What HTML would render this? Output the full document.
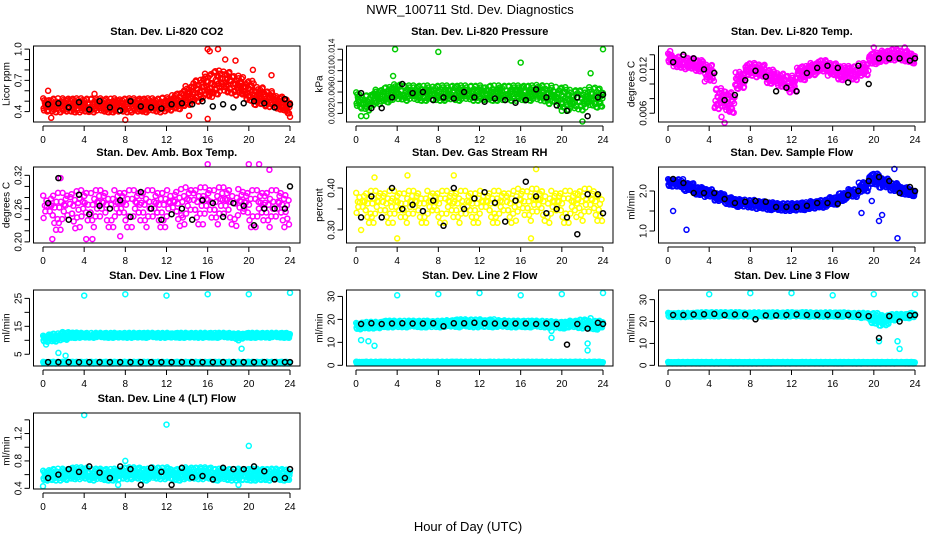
<!DOCTYPE html>
<html><head><meta charset="utf-8"><style>
html,body{margin:0;padding:0;background:#fff;}
svg{display:block;font-family:"Liberation Sans",sans-serif;}
</style></head><body>
<svg id="chart" width="936" height="540" viewBox="0 0 936 540" xmlns="http://www.w3.org/2000/svg">
<text x="470" y="14" font-size="13" text-anchor="middle">NWR_100711  Std. Dev. Diagnostics</text>
<text x="468" y="531" font-size="13" text-anchor="middle">Hour of Day (UTC)</text>
</svg>
<script>
// ---- data arrays (hours 0..24) ----
const hours = [0,1,2,3,4,5,6,7,8,9,10,11,12,13,14,15,16,17,18,19,20,21,22,23,24];
const blackHours = [0.5,1.5,2.5,3.5,4.5,5.5,6.5,7.5,8.5,9.5,10.5,11.5,12.5,13.5,14.5,15.5,16.5,17.5,18.5,19.5,20.5,21.5,22.5,23.5,24];

const co2Centers = [0.46,0.46,0.46,0.46,0.46,0.46,0.46,0.46,0.46,0.46,0.46,0.46,0.47,0.5,0.55,0.6,0.65,0.68,0.68,0.65,0.6,0.55,0.52,0.48,0.45];
const co2Spread = [0.07,0.07,0.07,0.07,0.07,0.07,0.07,0.07,0.07,0.07,0.07,0.07,0.07,0.08,0.1,0.11,0.12,0.12,0.11,0.1,0.1,0.09,0.08,0.07,0.07];
const co2OutX = [16,16.2,17,17.7,18.7,20.4,22.2,0.5,5,8,14.2,16,24,0.8];
const co2OutY = [1.0,0.98,1.0,0.9,0.89,0.8,0.75,0.6,0.57,0.32,0.36,0.33,0.35,0.34];
const co2Black = [0.47,0.48,0.44,0.49,0.42,0.5,0.44,0.41,0.5,0.45,0.44,0.43,0.47,0.48,0.47,0.5,0.45,0.47,0.44,0.48,0.5,0.48,0.44,0.52,0.47];

const presCenters = [0.0045,0.004,0.005,0.0055,0.006,0.0058,0.0058,0.0058,0.0058,0.0058,0.0058,0.0058,0.0058,0.0058,0.0058,0.0058,0.0058,0.0058,0.0058,0.0055,0.005,0.0045,0.0045,0.005,0.005];
const presSpread = [0.0015,0.0015,0.0015,0.0015,0.0015,0.0015,0.0015,0.0015,0.0015,0.0015,0.0015,0.0015,0.0015,0.0015,0.0015,0.0015,0.0015,0.0015,0.0016,0.0018,0.002,0.002,0.002,0.002,0.0018];
const presOutX = [3.8,8,16,24,22,20,20.5,0.5,1,22.8,3.6];
const presOutY = [0.014,0.0135,0.0115,0.014,0.0005,0.0025,0.0025,0.0015,0.0015,0.0095,0.009];
const presBlack = [0.0058,0.003,0.003,0.005,0.0075,0.0058,0.006,0.0045,0.005,0.0048,0.006,0.005,0.0042,0.0048,0.0045,0.004,0.0045,0.0065,0.005,0.0035,0.0025,0.005,0.0015,0.005,0.0055];

const tempCenters = [0.0135,0.013,0.0128,0.0125,0.0115,0.008,0.0075,0.0105,0.012,0.0118,0.011,0.0105,0.01,0.0115,0.012,0.0125,0.012,0.0115,0.0115,0.012,0.0135,0.0138,0.014,0.0138,0.0135];
const tempSpread = [0.0007,0.0008,0.0008,0.0008,0.0012,0.0015,0.0015,0.0012,0.0009,0.0009,0.001,0.001,0.0012,0.001,0.0009,0.0008,0.0009,0.001,0.001,0.0009,0.0008,0.0008,0.0008,0.0008,0.0007];
const tempOutX = [0.2,5.5,5.2,20,23];
const tempOutY = [0.0145,0.0047,0.0055,0.015,0.015];
const tempBlack = [0.013,0.014,0.0135,0.012,0.0115,0.0078,0.0085,0.0105,0.0118,0.011,0.009,0.0095,0.009,0.0115,0.0122,0.0125,0.0122,0.0102,0.0125,0.01,0.0135,0.0135,0.0135,0.0132,0.0135];

const ambCenters = [0.255,0.255,0.255,0.258,0.26,0.26,0.26,0.26,0.26,0.26,0.26,0.26,0.26,0.262,0.265,0.265,0.265,0.265,0.265,0.262,0.26,0.26,0.26,0.26,0.26];
const ambSpread = [0.03,0.035,0.035,0.035,0.035,0.035,0.035,0.035,0.035,0.035,0.035,0.035,0.035,0.035,0.035,0.035,0.035,0.035,0.035,0.035,0.035,0.035,0.035,0.035,0.03];
const ambOutX = [0.9,4.2,1.7,16,20,21,22,4.8,7.5];
const ambOutY = [0.205,0.205,0.315,0.34,0.34,0.34,0.33,0.205,0.21];
const ambBlack = [0.27,0.315,0.24,0.285,0.25,0.265,0.26,0.275,0.245,0.29,0.26,0.24,0.25,0.26,0.24,0.275,0.27,0.245,0.27,0.265,0.23,0.26,0.26,0.26,0.3];

const rhCenters = [0.355,0.355,0.355,0.355,0.355,0.355,0.355,0.355,0.355,0.355,0.355,0.355,0.355,0.355,0.355,0.355,0.36,0.36,0.36,0.355,0.355,0.355,0.36,0.36,0.355];
const rhSpread = [0.035,0.04,0.04,0.04,0.04,0.04,0.04,0.04,0.04,0.04,0.04,0.04,0.04,0.04,0.04,0.04,0.04,0.04,0.04,0.04,0.04,0.04,0.04,0.04,0.035];
const rhOutX = [17.5,9.5,0.5,4,17,1.8,5];
const rhOutY = [0.445,0.43,0.3,0.28,0.28,0.425,0.43];
const rhBlack = [0.33,0.38,0.33,0.4,0.35,0.36,0.345,0.37,0.31,0.4,0.35,0.375,0.39,0.365,0.32,0.37,0.415,0.38,0.34,0.35,0.33,0.29,0.385,0.385,0.34];

const flowCenters = [2.2,2.2,2.1,2.0,1.95,1.85,1.75,1.7,1.68,1.65,1.62,1.6,1.6,1.62,1.65,1.68,1.75,1.85,1.95,2.1,2.3,2.2,2.1,2.0,1.95];
const flowSpread = [0.1,0.1,0.1,0.1,0.1,0.1,0.1,0.1,0.1,0.1,0.1,0.1,0.1,0.1,0.1,0.1,0.1,0.1,0.1,0.12,0.14,0.12,0.1,0.1,0.08];
const flowOutX = [0.5,1.8,18.8,19.8,20.5,22,22.3,20.8];
const flowOutY = [1.5,1.03,1.45,1.75,1.25,2.55,0.82,1.4];
const flowBlack = [2.3,2.2,1.95,1.95,1.95,1.8,1.7,1.73,1.75,1.73,1.6,1.6,1.6,1.63,1.7,1.7,1.68,1.9,2.0,2.25,2.35,2.25,1.95,2.1,2.0];

const line1Centers = [10.5,11,11.5,11.8,11.8,11.8,11.8,11.8,11.8,11.8,11.8,11.8,11.8,11.8,11.8,11.8,11.8,11.8,11.8,11.5,11.8,11.8,11.8,11.8,11.8];
const line1Spread = [1.2,1.5,1.5,1.0,0.9,0.9,0.9,0.9,0.9,0.9,0.9,0.9,0.9,0.9,0.9,0.9,0.9,0.9,0.9,1.0,0.9,0.9,0.9,0.9,0.9];
const line1LowCenters = [2,2,2,2,2,2,2,2,2,2,2,2,2,2,2,2,2,2,2,2,2,2,2,2,2];
const line1OutX = [4,8,12,16,20,24,1.5,2.2,19,19.3,0.3];
const line1OutY = [26,26.5,26,26.5,26.5,27,5.5,4.5,10,7,8.5];
const line1Black = [2.2,2.2,2.2,2.2,2.2,2.2,2.2,2.2,2.2,2.2,2.2,2.2,2.2,2.2,2.2,2.2,2.2,2.2,2.2,2.2,2.2,2.2,2.2,2.2,2.2];

const line2Centers = [17,17.5,17.5,18,18,18,18,18,18,18.2,18.3,18.3,18.3,18.3,18.2,18,18,18,18,17.8,17.5,18,18,17.5,18];
const line2Spread = [1.5,1.5,1.5,1.5,1.5,1.5,1.5,1.5,1.5,1.5,1.8,1.8,1.8,1.8,1.5,1.5,1.5,1.5,1.5,1.5,1.5,1.5,2,2,1.5];
const line2LowCenters = [1.2,1.2,1.2,1.2,1.2,1.2,1.2,1.2,1.2,1.2,1.2,1.2,1.2,1.2,1.2,1.2,1.2,1.2,1.2,1.2,1.2,1.2,1.2,1.2,1.2];
const line2OutX = [4,8,12,16,20,24,0.5,1.2,1.8,19,22.5,22.5,22.8,19];
const line2OutY = [30.5,31,31.5,30.5,31,31.5,11,10.5,8.5,12,9.5,6.5,20.5,15];
const line2Black = [18,18.3,18,18.2,18.3,18.2,18.2,18.3,17,18.3,18.3,18.5,18.3,18.2,18.2,18.2,18.2,18,18.2,18,9,18,16,18.5,18];

const line3Centers = [23,23,23,23.2,23.3,23.3,23.3,23.3,23.2,23.2,23.2,23.2,23.3,23.3,23.2,23.2,23.2,23.2,23,22.8,21.5,20.5,22,22.5,23];
const line3Spread = [1,1,1,1,1,1,1,1,1,1,1,1,1,1,1,1,1,1,1,1.2,2.5,2.5,1.5,1,1];
const line3LowCenters = [1.2,1.2,1.2,1.2,1.2,1.2,1.2,1.2,1.2,1.2,1.2,1.2,1.2,1.2,1.2,1.2,1.2,1.2,1.2,1.2,1.2,1.2,1.2,1.2,1.2];
const line3OutX = [4,8,12,16,20,24,20.5,22.3,22.5];
const line3OutY = [32.5,33,33,32,32.5,32.5,11,11,7.5];
const line3Black = [23,23,23.2,23.3,23.5,23,23.2,23.2,21,22.8,22.8,23,23.2,23,23,23,23,23,23,22.5,12.5,22.5,20,22.8,23];

const line4Centers = [0.58,0.6,0.6,0.62,0.62,0.6,0.6,0.6,0.62,0.62,0.6,0.62,0.62,0.6,0.62,0.62,0.62,0.6,0.6,0.6,0.6,0.6,0.6,0.6,0.6];
const line4Spread = [0.08,0.09,0.09,0.09,0.09,0.09,0.09,0.09,0.09,0.09,0.09,0.09,0.09,0.09,0.09,0.09,0.09,0.09,0.09,0.09,0.09,0.09,0.09,0.09,0.08];
const line4OutX = [4,12,20,0,19,7.3,8];
const line4OutY = [1.47,1.33,1.02,0.43,0.45,0.45,0.8];
const line4Black = [0.55,0.6,0.68,0.64,0.72,0.63,0.55,0.72,0.68,0.45,0.7,0.64,0.45,0.7,0.56,0.58,0.53,0.7,0.68,0.68,0.72,0.65,0.53,0.55,0.68];

// offset pattern used to spread each hourly cloud (layout only)
const PDX = [-0.46,-0.38,-0.3,-0.22,-0.14,-0.06,0.02,0.1,0.18,0.26,0.34,0.42,-0.42,-0.34,-0.26,-0.18,-0.1,-0.02,0.06,0.14,0.22,0.3,0.38,0.46];
const PDY = [0.8,-0.5,0.2,-0.9,0.5,-0.1,0.95,-0.7,0.35,-0.3,0.65,-0.85,-0.2,0.9,-0.6,0.1,-0.95,0.45,-0.4,0.7,0.0,-0.15,0.3,-0.75];

const NS = "http://www.w3.org/2000/svg";
const svg = document.getElementById('chart');
const colX0 = [43,356,668];
const rowTop = [46,167,290,413];
const boxH = 76, hourPx = 247/24;

function mk(tag, attrs){ const e=document.createElementNS(NS,tag); for(const k in attrs) e.setAttribute(k,attrs[k]); return e; }

const panels = [
 {title:"Stan. Dev. Li-820 CO2", ylab:"Licor ppm", col:0,row:0, ylim:[0.30,1.03], ticks:[0.4,0.5,0.6,0.7,0.8,0.9,1.0], labels:["0.4","0.7","1.0"], fs:10, n:24, color:"#ff0000", bands:[[co2Centers,co2Spread]], ox:co2OutX, oy:co2OutY, black:co2Black},
 {title:"Stan. Dev. Li-820 Pressure", ylab:"kPa", col:1,row:0, ylim:[0.0004,0.0146], ticks:[0.002,0.004,0.006,0.008,0.010,0.012,0.014], labels:["0.002","0.006","0.010","0.014"], fs:8.5, n:22, color:"#00cc00", bands:[[presCenters,presSpread]], ox:presOutX, oy:presOutY, black:presBlack},
 {title:"Stan. Dev. Li-820 Temp.", ylab:"degrees C", col:2,row:0, ylim:[0.0048,0.0152], ticks:[0.006,0.008,0.010,0.012,0.014], labels:["0.006","0.012"], fs:10, n:24, color:"#ff00ff", bands:[[tempCenters,tempSpread]], ox:tempOutX, oy:tempOutY, black:tempBlack},
 {title:"Stan. Dev. Amb. Box Temp.", ylab:"degrees C", col:0,row:1, ylim:[0.198,0.335], ticks:[0.20,0.22,0.24,0.26,0.28,0.30,0.32], labels:["0.20","0.26","0.32"], fs:10, n:13, color:"#ff00ff", bands:[[ambCenters,ambSpread]], ox:ambOutX, oy:ambOutY, black:ambBlack},
 {title:"Stan. Dev. Gas Stream RH", ylab:"percent", col:1,row:1, ylim:[0.269,0.45], ticks:[0.30,0.35,0.40], labels:["0.30","0.40"], fs:10, n:13, color:"#ffff00", bands:[[rhCenters,rhSpread]], ox:rhOutX, oy:rhOutY, black:rhBlack},
 {title:"Stan. Dev. Sample Flow", ylab:"ml/min", col:2,row:1, ylim:[0.7,2.6], ticks:[1.0,1.5,2.0], labels:["1.0","2.0"], fs:10, n:24, color:"#0000ff", bands:[[flowCenters,flowSpread]], ox:flowOutX, oy:flowOutY, black:flowBlack},
 {title:"Stan. Dev. Line 1 Flow", ylab:"ml/min", col:0,row:2, ylim:[0.8,28], ticks:[5,10,15,20,25], labels:["5","15","25"], fs:10, n:24, color:"#00ffff", bands:[[line1Centers,line1Spread],[line1LowCenters,0.3]], ox:line1OutX, oy:line1OutY, black:line1Black},
 {title:"Stan. Dev. Line 2 Flow", ylab:"ml/min", col:1,row:2, ylim:[-0.3,32.8], ticks:[0,10,20,30], labels:["0","10","20","30"], fs:10, n:24, color:"#00ffff", bands:[[line2Centers,line2Spread],[line2LowCenters,0.35]], ox:line2OutX, oy:line2OutY, black:line2Black},
 {title:"Stan. Dev. Line 3 Flow", ylab:"ml/min", col:2,row:2, ylim:[-0.3,34.4], ticks:[0,10,20,30], labels:["0","10","20","30"], fs:10, n:24, color:"#00ffff", bands:[[line3Centers,line3Spread],[line3LowCenters,0.35]], ox:line3OutX, oy:line3OutY, black:line3Black},
 {title:"Stan. Dev. Line 4 (LT) Flow", ylab:"ml/min", col:0,row:3, ylim:[0.39,1.5], ticks:[0.4,0.6,0.8,1.0,1.2,1.4], labels:["0.4","0.8","1.2"], fs:10, n:24, color:"#00ffff", bands:[[line4Centers,line4Spread]], ox:line4OutX, oy:line4OutY, black:line4Black}
];

function circle(g, cx, cy, color){
  const c = mk('circle',{cx:cx.toFixed(1),cy:cy.toFixed(1),r:2.5,fill:'none',stroke:color,'stroke-width':1.5});
  
  
  g.appendChild(c);
}

panels.forEach((p,pi)=>{
  const x0 = colX0[p.col], top = rowTop[p.row], bot = top+boxH;
  const left = x0-9.5, right = x0+247+10;
  const xs = h => x0 + h*hourPx;
  const ys = v => bot - (v-p.ylim[0])/(p.ylim[1]-p.ylim[0])*boxH;
  const g = mk('g',{});
  
  
  svg.appendChild(g);
  const t = mk('text',{x:(left+right)/2,y:top-11,'font-size':11,'font-weight':'bold','text-anchor':'middle'});
  
  
  t.textContent = p.title; g.appendChild(t);
  const pts = mk('g',{});
  
  
  g.appendChild(pts);
  p.bands.forEach(b=>{
    const cen=b[0], sp=b[1];
    hours.forEach((h,i)=>{
      const s = Array.isArray(sp)?sp[i]:sp;
      for(let k=0;k<p.n;k++){
        const kk = (k*Math.round(24/p.n) + i*5) % 24;
        const hx = h+PDX[kk];
        if(hx<0||hx>24) continue;
        circle(pts, xs(hx), ys(cen[i]+PDY[(kk+i*7)%24]*s), p.color);
      }
    });
  });
  p.ox.forEach((x,i)=>circle(pts, xs(x), ys(p.oy[i]), p.color));
  p.black.forEach((v,i)=>circle(pts, xs(blackHours[i]), ys(v), '#000'));
  const box = mk('rect',{x:left,y:top,width:right-left,height:boxH,fill:'none',stroke:'#000','stroke-width':1});
  
  
  g.appendChild(box);
  const xa = mk('g',{});   g.appendChild(xa);
  xa.appendChild(mk('line',{x1:xs(0),x2:xs(24),y1:bot+4,y2:bot+4,stroke:'#000'}));
  for(let h=0;h<=24;h+=4){
    xa.appendChild(mk('line',{x1:xs(h),x2:xs(h),y1:bot+4,y2:bot+9,stroke:'#000'}));
    const tl = mk('text',{x:xs(h),y:bot+21,'font-size':10,'text-anchor':'middle'});
    
    
    tl.textContent = h; xa.appendChild(tl);
  }
  const ya = mk('g',{});   g.appendChild(ya);
  const tk = p.ticks;
  ya.appendChild(mk('line',{x1:left-4,x2:left-4,y1:ys(tk[0]),y2:ys(tk[tk.length-1]),stroke:'#000'}));
  tk.forEach(v=>ya.appendChild(mk('line',{x1:left-9,x2:left-4,y1:ys(v),y2:ys(v),stroke:'#000'})));
  p.labels.forEach(l=>{
    const yy = ys(parseFloat(l));
    const tl = mk('text',{x:left-12,y:yy,'font-size':p.fs,'text-anchor':'middle',transform:`rotate(-90 ${left-12} ${yy})`});
    
    
    tl.textContent = l; ya.appendChild(tl);
  });
  const yt = mk('text',{x:left-24,y:(top+bot)/2,'font-size':10,'text-anchor':'middle',transform:`rotate(-90 ${left-24} ${(top+bot)/2})`});
  
  
  yt.textContent = p.ylab; ya.appendChild(yt);
});
</script>
</body></html>
